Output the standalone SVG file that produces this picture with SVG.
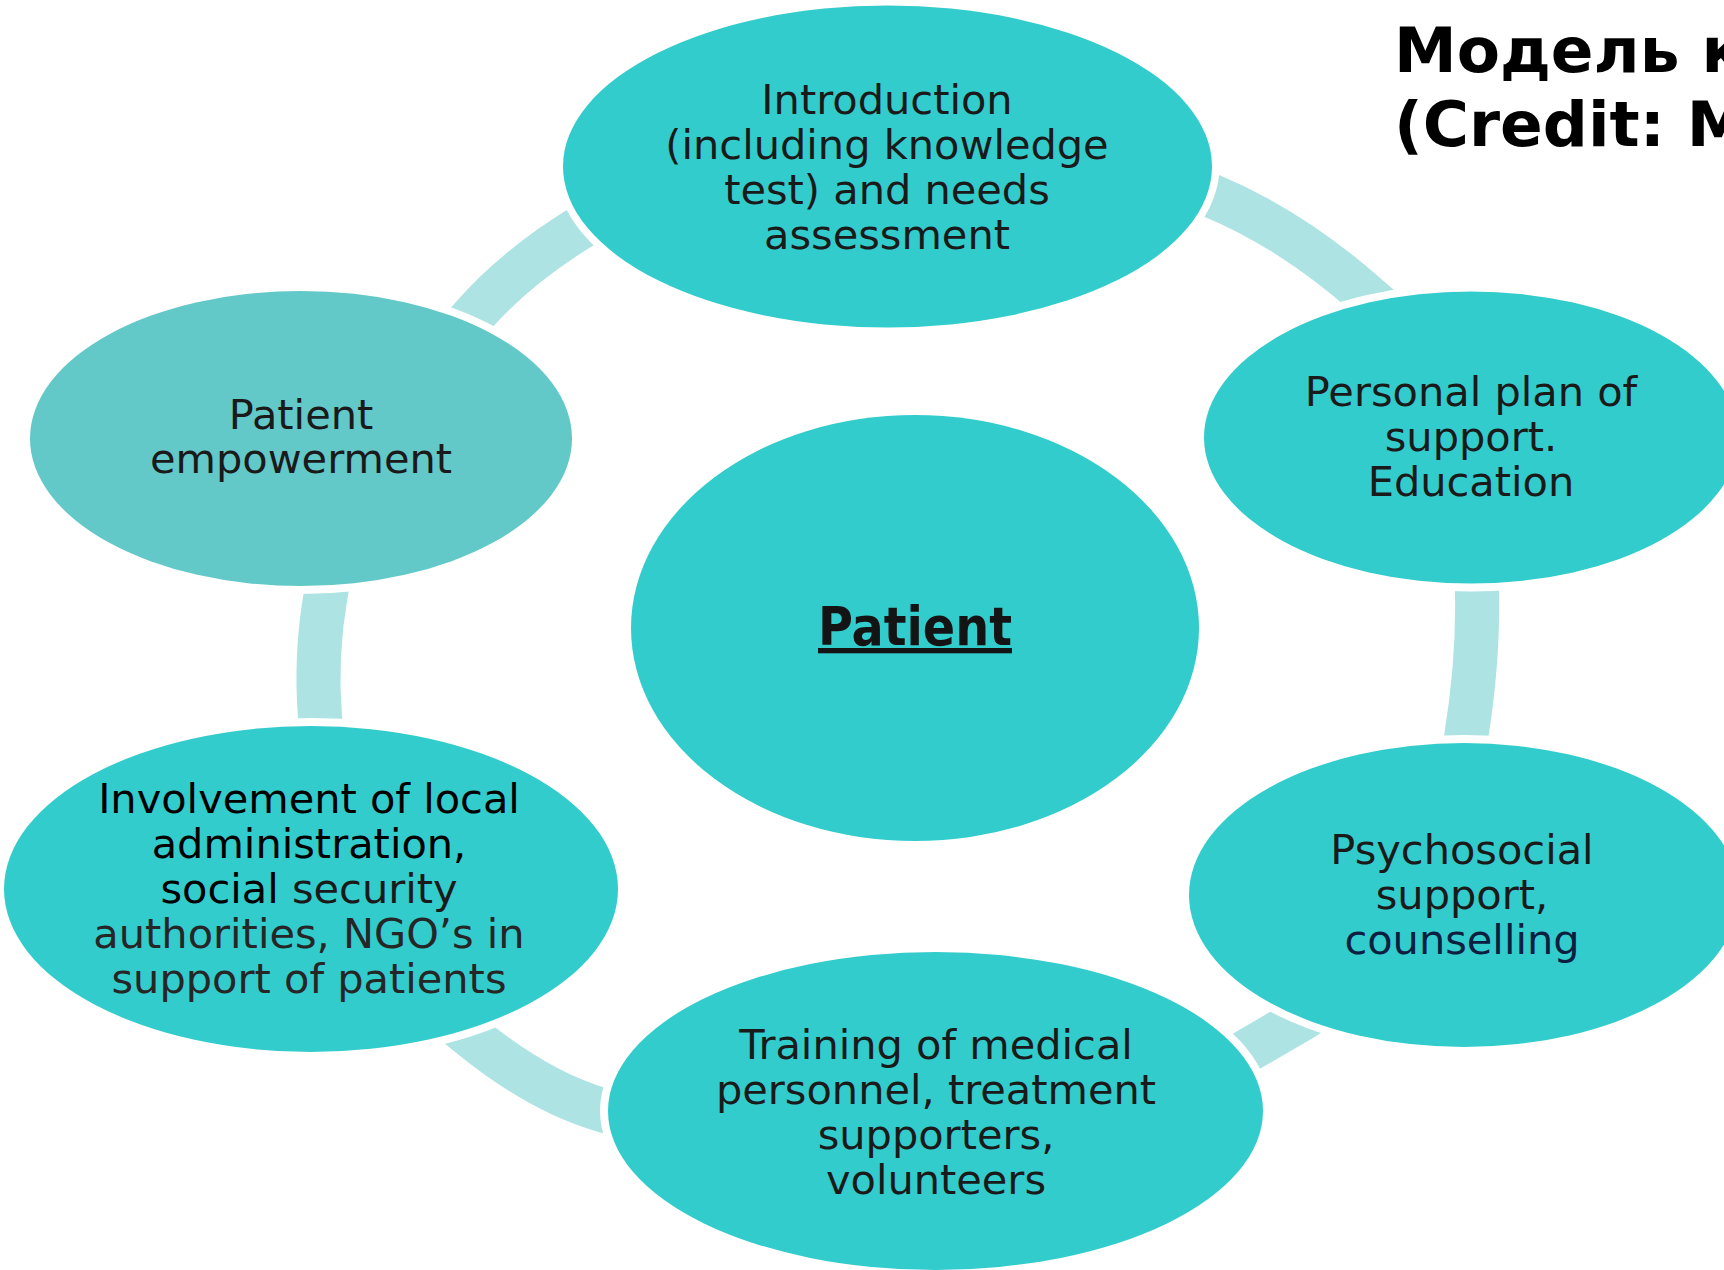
<svg xmlns="http://www.w3.org/2000/svg" width="1724" height="1270" viewBox="0 0 1724 1270">
<style>
.bg{fill:#ffffff}
.arc{fill:none;stroke:#ADE3E3;stroke-width:44;stroke-linecap:butt}
.halo{fill:#ffffff}
.node{fill:#33CCCC}
.node2{fill:#63C8C8}
.lbl{font-family:"DejaVu Sans",Verdana,sans-serif;font-size:41.5px;fill:#1a1a1a;text-anchor:middle}
.center{font-family:"DejaVu Sans Condensed","DejaVu Sans",sans-serif;font-weight:bold;font-size:53px;fill:#141414;text-anchor:middle;text-decoration:underline}
.title{font-family:"DejaVu Sans",Verdana,sans-serif;font-weight:bold;font-size:63px;fill:#000000}
</style>
<rect class="bg" x="0" y="0" width="1724" height="1270"/>
<g id="connectors">
<path class="arc" d="M447 346 L473 316 Q514 269 578 229 L612 208"/>
<path class="arc" d="M1175 181 L1212 196 Q1291 229 1365 294 L1395 320"/>
<path class="arc" d="M1476 553 L1477 593 Q1478.5 660 1466 738 L1460 777"/>
<path class="arc" d="M1219 1067 L1245 1052 L1300 1020 L1313 1012"/>
<path class="arc" d="M442 1013 L473 1038 Q540 1092 602 1110 L640 1121"/>
<path class="arc" d="M333 554 L326 593 Q315 655 320 717 L323 757"/>
</g>
<g id="node-intro">
<ellipse class="halo" cx="887.5" cy="166.5" rx="332" ry="169"/>
<ellipse class="node" cx="887.5" cy="166.5" rx="324.5" ry="161"/>
<text class="lbl"><tspan x="887" y="114">Introduction</tspan><tspan x="887" y="159">(including knowledge</tspan><tspan x="887" y="204">test) and needs</tspan><tspan x="887" y="249">assessment</tspan></text>
</g>
<g id="node-plan">
<ellipse class="halo" cx="1471" cy="437.5" rx="275" ry="154"/>
<ellipse class="node" cx="1471" cy="437.5" rx="267" ry="146"/>
<text class="lbl"><tspan x="1471" y="406">Personal plan of</tspan><tspan x="1471" y="451">support.</tspan><tspan x="1471" y="496">Education</tspan></text>
</g>
<g id="node-psycho">
<ellipse class="halo" cx="1464" cy="895" rx="283" ry="160"/>
<ellipse class="node" cx="1464" cy="895" rx="275" ry="152"/>
<text class="lbl"><tspan x="1462" y="864">Psychosocial</tspan><tspan x="1462" y="909">support,</tspan><tspan x="1462" y="954" fill="#0b2040">counselling</tspan></text>
</g>
<g id="node-training">
<ellipse class="halo" cx="935.5" cy="1111" rx="335.5" ry="167"/>
<ellipse class="node" cx="935.5" cy="1111" rx="327.5" ry="159"/>
<text class="lbl"><tspan x="936" y="1059">Training of medical</tspan><tspan x="936" y="1104">personnel, treatment</tspan><tspan x="936" y="1149">supporters,</tspan><tspan x="936" y="1194">volunteers</tspan></text>
</g>
<g id="node-involvement">
<ellipse class="halo" cx="311" cy="889" rx="315" ry="171"/>
<ellipse class="node" cx="311" cy="889" rx="307" ry="163"/>
<text class="lbl"><tspan x="309" y="813" fill="#000000">Involvement of local</tspan><tspan x="309" y="858" fill="#000000">administration,</tspan><tspan x="309" y="903"><tspan fill="#000000">social</tspan> security</tspan><tspan x="309" y="948" fill="#262626">authorities, NGO’s in</tspan><tspan x="309" y="993" fill="#262626">support of patients</tspan></text>
</g>
<g id="node-empowerment">
<ellipse class="halo" cx="301" cy="438.5" rx="279" ry="155.5"/>
<ellipse class="node2" cx="301" cy="438.5" rx="271" ry="147.5"/>
<text class="lbl"><tspan x="301" y="429">Patient</tspan><tspan x="301" y="473">empowerment</tspan></text>
</g>
<g id="node-patient">
<ellipse class="halo" cx="915" cy="628" rx="292" ry="221"/>
<ellipse class="node" cx="915" cy="628" rx="284" ry="213"/>
<text class="center" x="915" y="645">Patient</text>
</g>
<g id="title">
<text class="title"><tspan x="1394" y="72">Модель к</tspan><tspan x="1394" y="146">(Credit: M</tspan></text>
</g>
</svg>
